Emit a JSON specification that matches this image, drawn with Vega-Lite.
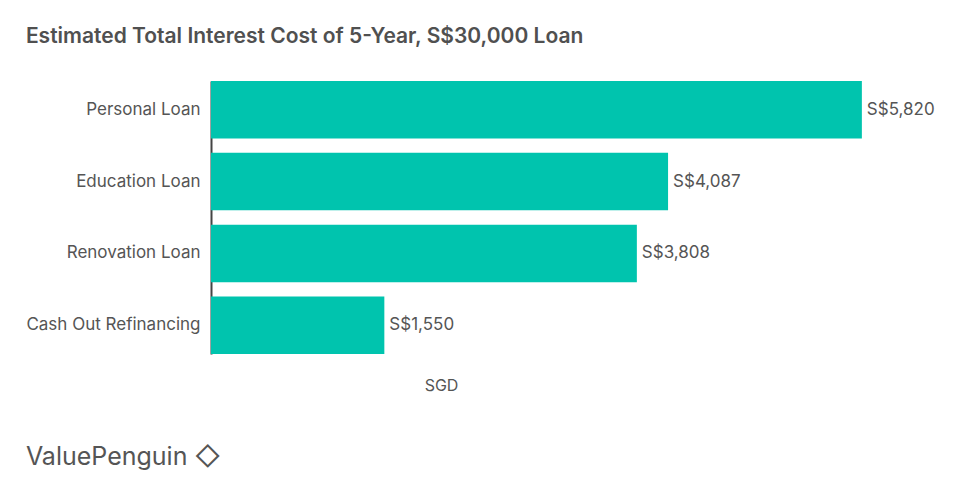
{
  "$schema": "https://vega.github.io/schema/vega-lite/v6.json",
  "background": "white",
  "padding": {"left": 25, "top": 26, "right": 0, "bottom": 0},
  "title": {"text": "Estimated Total Interest Cost of 5-Year, S$30,000 Loan", "anchor": "start", "frame": "bounds", "font": "Inter", "fontSize": 21, "fontWeight": 600, "color": "#505050", "offset": 34},
  "config": {
    "view": {"stroke": null},
    "locale": {"number": {"decimal": ".", "thousands": ",", "grouping": [3], "currency": ["S$", ""]}},
    "font": "Inter"
  },
  "data": {"values": [
    {"type": "Personal Loan", "value": 5820},
    {"type": "Education Loan", "value": 4087},
    {"type": "Renovation Loan", "value": 3808},
    {"type": "Cash Out Refinancing", "value": 1550}
  ]},
  "vconcat": [
    {
      "width": 671,
      "height": 273,
      "title": {"text": "ValuePenguin ◇", "orient": "bottom", "anchor": "start", "frame": "bounds", "font": "Inter", "fontSize": 25, "fontWeight": 400, "color": "#555555", "offset": 52},
      "encoding": {
        "y": {"field": "type", "type": "nominal", "sort": null, "title": null,
              "scale": {"paddingInner": 0.2, "paddingOuter": 0},
              "axis": {"ticks": false, "labelFontSize": 17, "labelColor": "#555555", "labelPadding": 11, "domainColor": "#444444", "domainWidth": 2, "labelFont": "Inter"}},
        "x": {"field": "value", "type": "quantitative", "title": "SGD",
              "scale": {"domain": [0, 6000], "nice": false},
              "axis": {"labels": false, "ticks": false, "domain": false, "grid": false, "titleFontSize": 16, "titleFontWeight": 400, "titleColor": "#555555", "titlePadding": 23, "titleX": 230, "titleFont": "Inter"}}
      },
      "layer": [
        {"mark": {"type": "bar", "color": "#00C4AE"}},
        {"mark": {"type": "text", "align": "left", "dx": 5, "fontSize": 17, "color": "#555555", "font": "Inter"},
         "encoding": {"text": {"field": "value", "type": "quantitative", "format": "$,.0f"}}}
      ]
    }
  ]
}
